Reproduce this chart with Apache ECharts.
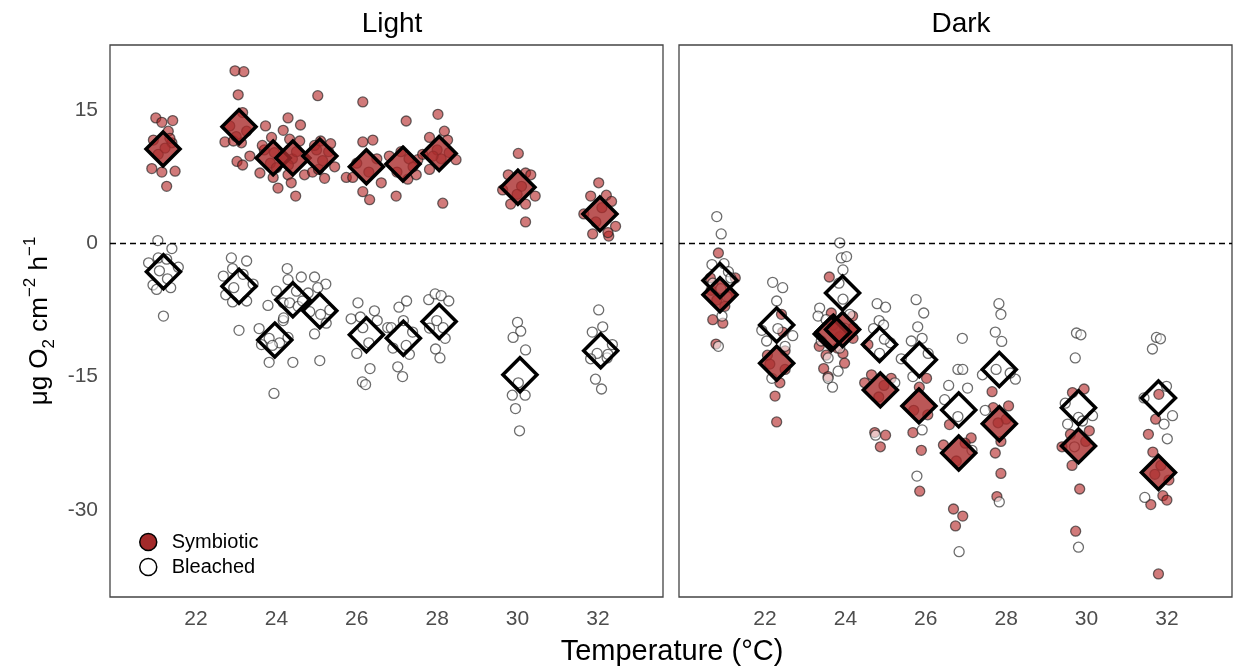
<!DOCTYPE html>
<html>
<head>
<meta charset="UTF-8"/>
<title>Light / Dark respiration</title>
<script src="https://cdn.jsdelivr.net/npm/echarts@6/dist/echarts.min.js"></script>
<style>
html,body{margin:0;padding:0;background:#fff;}
#main{width:1233px;height:668px;}
</style>
</head>
<body>
<div id="main"></div>
<script>
// temperature ticks
var tempTicks = [22, 24, 26, 28, 30, 32];
var rateTicks = [-30, -15, 0, 15];

// Light panel, symbiotic individuals [temperature (jittered), rate]
var lightSymPts = [
  [21.0,14.1],[21.15,13.6],[21.42,13.8],[21.31,12.6],[20.94,11.6],[21.4,11.3],[20.9,8.4],[21.15,8.0],[21.48,8.1],[21.27,6.4],[21.06,10.0],[21.23,10.7],[21.35,11.8],
  [22.97,19.4],[23.19,19.3],[23.05,16.7],[23.16,14.7],[22.72,11.4],[22.93,11.5],[23.13,11.3],[23.02,9.2],[23.16,8.8],[23.34,9.8],[22.84,13.2],[23.26,12.6],[23.0,12.0],
  [23.73,13.2],[24.17,12.7],[23.88,11.9],[23.59,7.9],[23.92,7.4],[24.04,6.2],[23.7,10.5],[23.85,9.0],[24.0,8.5],[23.95,10.2],[23.65,11.0],
  [24.29,14.1],[24.6,13.3],[24.33,11.7],[24.58,11.5],[24.29,7.7],[24.37,6.8],[24.48,5.3],[24.7,7.7],[24.4,9.5],[24.5,10.3],[24.3,8.8],
  [25.03,16.6],[25.2,7.3],[25.45,8.6],[24.9,8.0],[25.0,10.5],[25.15,9.3],[25.3,10.3],[24.95,11.0],[25.1,11.5],[25.35,11.2],[25.05,8.3],
  [26.15,15.9],[26.15,11.4],[26.4,11.6],[26.61,6.8],[26.15,5.8],[26.32,4.9],[25.74,7.4],[25.9,7.4],[26.0,9.0],[26.3,8.0],[26.5,9.5],
  [27.23,13.75],[26.81,9.8],[27.48,7.7],[27.27,7.2],[26.98,5.3],[27.52,9.4],[27.64,10.0],[27.0,8.0],[27.3,9.5],[27.1,10.3],[27.4,8.6],
  [28.02,14.5],[27.81,11.9],[28.18,12.6],[28.26,11.6],[27.81,8.3],[28.47,9.4],[28.14,4.5],[28.0,10.5],[28.1,9.5],[28.3,10.2],[27.9,9.8],
  [30.02,10.1],[29.77,7.7],[30.2,7.9],[30.33,7.7],[29.63,6.0],[29.83,4.4],[30.2,4.4],[30.44,5.3],[30.2,2.4],[30.1,6.4],[29.99,5.5],
  [32.02,6.8],[31.82,5.3],[32.21,5.4],[32.34,4.7],[31.65,3.3],[32.44,1.9],[31.87,1.05],[32.27,0.8],[32.25,1.2],[32.1,4.0],[31.95,2.4]
];
// Light panel, bleached individuals
var lightBlePts = [
  [21.05,0.3],[21.4,-0.6],[20.82,-2.2],[21.06,-1.65],[21.27,-1.8],[21.56,-2.7],[21.09,-3.1],[21.29,-4.0],[20.93,-4.7],[21.02,-5.2],[21.37,-5.0],[21.19,-8.2],
  [22.88,-1.65],[23.26,-2.0],[22.91,-2.85],[22.68,-3.7],[23.17,-3.5],[23.42,-4.6],[22.94,-5.0],[22.74,-5.8],[22.91,-6.6],[23.26,-6.5],[23.07,-9.8],
  [23.79,-7.0],[23.57,-9.6],[24.17,-8.7],[23.82,-10.7],[24.08,-11.2],[23.63,-11.4],[23.82,-13.4],[24.41,-13.4],[23.94,-16.9],[24.29,-10.6],[23.9,-11.5],
  [24.27,-2.85],[24.29,-4.1],[24.62,-3.8],[24.0,-5.4],[24.5,-5.4],[24.17,-6.7],[24.33,-6.7],[24.54,-7.1],[24.18,-8.4],[24.65,-6.5],
  [24.95,-3.8],[25.23,-4.6],[24.79,-5.6],[25.03,-5.0],[24.83,-7.7],[25.33,-7.5],[25.24,-9.0],[24.95,-10.2],[25.08,-13.2],[25.1,-8.0],
  [26.03,-6.7],[25.86,-8.5],[26.09,-8.3],[26.44,-7.6],[26.51,-8.7],[26.15,-9.5],[26.3,-11.2],[26.0,-12.4],[26.33,-14.1],[26.14,-15.6],[26.22,-15.9],[26.77,-9.5],
  [26.86,-9.5],[27.05,-7.2],[27.24,-6.5],[27.16,-8.7],[27.39,-10.0],[26.9,-11.8],[27.23,-11.5],[27.31,-12.5],[27.02,-13.9],[27.14,-15.0],
  [27.79,-6.35],[27.95,-5.7],[28.1,-5.9],[28.29,-6.5],[27.81,-9.55],[27.99,-8.7],[28.15,-9.5],[28.2,-10.7],[27.96,-11.9],[28.07,-12.9],
  [30.0,-8.9],[30.08,-9.9],[29.89,-10.6],[30.2,-12.0],[30.02,-15.7],[29.87,-17.1],[30.19,-17.1],[29.95,-18.6],[30.05,-21.1],
  [32.02,-7.5],[32.12,-9.4],[31.86,-10.0],[32.36,-11.4],[31.98,-12.4],[32.23,-12.9],[31.82,-13.0],[31.94,-15.3],[32.09,-16.4],[32.25,-12.5]
];
// Dark panel, symbiotic individuals
var darkSymPts = [
  [20.84,-1.1],[21.26,-3.9],[20.64,-3.9],[20.7,-8.6],[20.95,-9.0],[20.78,-11.35],[21.0,-7.1],[20.8,-6.4],[21.1,-6.0],[20.66,-5.3],
  [22.41,-8.0],[22.44,-10.0],[22.06,-12.6],[22.5,-12.1],[22.12,-13.6],[22.37,-15.7],[22.25,-17.2],[22.29,-20.1],[22.5,-14.2],
  [23.6,-3.8],[24.18,-8.2],[23.65,-7.85],[23.35,-11.6],[23.52,-12.6],[23.8,-11.8],[24.19,-9.55],[23.94,-12.4],[23.98,-13.5],[23.46,-14.1],[24.19,-10.7],[23.86,-10.5],[23.7,-9.2],[23.57,-15.0],
  [24.56,-11.4],[24.48,-15.7],[24.65,-14.8],[25.14,-15.2],[24.96,-16.0],[24.73,-21.3],[25.0,-21.6],[24.87,-22.9],[24.83,-17.3],
  [26.02,-15.2],[25.84,-16.2],[25.68,-21.3],[25.89,-23.3],[25.85,-27.9],[26.05,-19.3],[25.7,-18.8],
  [26.59,-20.4],[27.13,-21.9],[26.44,-22.7],[26.76,-24.5],[26.69,-29.9],[26.92,-30.7],[26.74,-31.8],[26.98,-22.5],
  [27.65,-16.7],[27.68,-18.5],[28.06,-18.3],[28.0,-19.8],[27.8,-20.2],[27.87,-22.3],[27.73,-23.6],[27.87,-25.9],[27.77,-28.5],
  [29.65,-16.8],[29.94,-16.4],[30.07,-21.1],[29.39,-22.9],[29.64,-25.0],[29.83,-27.65],[29.73,-32.4],[29.98,-22.3],[29.6,-21.5],
  [31.8,-17.0],[31.72,-19.8],[31.54,-21.5],[31.65,-23.5],[32.05,-26.65],[31.9,-28.4],[31.6,-29.4],[32.0,-28.9],[31.79,-37.2],[31.85,-25.0],[31.7,-26.0]
];
// Dark panel, bleached individuals
var darkBlePts = [
  [20.8,3.0],[20.91,1.05],[20.68,-2.4],[20.98,-2.3],[21.09,-3.2],[20.93,-8.2],[20.84,-11.6],[21.15,-3.9],[20.9,-5.1],[20.7,-4.5],[21.05,-6.0],
  [22.19,-4.4],[22.44,-5.0],[22.29,-6.5],[21.92,-9.8],[22.32,-9.6],[22.69,-10.4],[22.04,-11.0],[22.17,-15.2],[22.5,-11.6],
  [23.86,0.05],[23.9,-1.65],[24.03,-1.5],[23.94,-3.0],[23.84,-4.5],[23.94,-6.3],[23.36,-7.3],[23.32,-8.2],[23.52,-8.6],[24.11,-8.0],[23.98,-9.55],[23.86,-11.8],[23.57,-12.9],[23.82,-14.4],[23.57,-15.2],[23.68,-16.2],[23.4,-11.0],
  [24.79,-6.8],[25.0,-7.2],[24.84,-8.7],[24.95,-9.2],[24.7,-9.6],[25.12,-11.2],[24.85,-12.4],[24.97,-10.8],[25.23,-15.7],[24.75,-21.6],
  [25.76,-6.35],[25.95,-7.85],[25.8,-9.4],[25.91,-10.7],[25.64,-11.0],[26.06,-12.4],[25.39,-13.0],[25.68,-15.0],[25.91,-21.0],[25.78,-26.2],
  [26.91,-10.7],[26.8,-14.2],[26.92,-14.2],[26.57,-16.0],[27.04,-16.3],[26.47,-17.6],[26.8,-19.5],[27.15,-23.3],[26.83,-34.7],
  [27.82,-6.8],[27.87,-8.0],[27.73,-10.0],[27.89,-11.05],[27.41,-14.8],[28.23,-15.3],[27.75,-14.2],[28.1,-14.6],[27.48,-18.8],[27.83,-29.1],
  [29.75,-10.1],[29.86,-10.3],[29.72,-12.9],[29.47,-18.0],[30.15,-19.4],[29.53,-20.35],[29.8,-19.6],[29.7,-22.9],[29.8,-34.2],[29.9,-20.0],
  [31.74,-10.6],[31.84,-10.75],[31.64,-11.9],[31.99,-16.1],[31.43,-17.4],[32.14,-19.4],[31.93,-20.35],[32.01,-22.0],[31.45,-28.6]
];
// group means (diamonds)
var lightSymMean = [[21.18,10.6],[23.07,13.1],[23.92,9.6],[24.41,9.6],[25.08,9.8],[26.24,8.6],[27.15,8.9],[28.05,10.1],[30.01,6.3],[32.05,3.3]];
var lightBleMean = [[21.19,-3.2],[23.07,-4.85],[23.96,-10.9],[24.41,-6.35],[25.08,-7.6],[26.24,-10.3],[27.16,-10.7],[28.05,-8.8],[30.06,-14.8],[32.07,-12.1]];
var darkSymMean = [[20.88,-5.8],[22.29,-13.5],[23.65,-10.2],[23.93,-9.7],[24.87,-16.5],[25.83,-18.3],[26.82,-23.6],[27.83,-20.3],[29.8,-22.8],[31.79,-25.8]];
var darkBleMean = [[20.88,-4.2],[22.29,-9.2],[23.7,-10.0],[23.93,-5.6],[24.85,-11.4],[25.84,-13.1],[26.82,-18.75],[27.83,-14.2],[29.8,-18.5],[31.79,-17.4]];

var FONT = 'Liberation Sans, Arial, sans-serif';
var chart = echarts.init(document.getElementById('main'));

function xAx(idx) {
  return {
    type: 'value', gridIndex: idx, min: 19.86, max: 33.62,
    axisLine: {show: false}, axisTick: {show: false}, splitLine: {show: false},
    axisLabel: {customValues: tempTicks, color: '#4d4d4d', fontSize: 21, fontFamily: FONT, margin: 12}
  };
}
function yAx(idx) {
  return {
    type: 'value', gridIndex: idx, min: -39.8, max: 22.3,
    axisLine: {show: false}, axisTick: {show: false}, splitLine: {show: false},
    axisLabel: {show: idx === 0, customValues: rateTicks, color: '#4d4d4d', fontSize: 21, fontFamily: FONT, margin: 12}
  };
}
function pts(name, data, idx, filled) {
  return {
    name: name, type: 'scatter', xAxisIndex: idx, yAxisIndex: idx, data: data,
    symbol: 'circle', symbolSize: 10, z: 2,
    itemStyle: {
      opacity: 1,
      color: filled ? 'rgba(178,34,34,0.6)' : 'rgba(255,255,255,0.55)',
      borderColor: 'rgba(30,30,30,0.65)', borderWidth: 1.3
    }
  };
}
function means(name, data, idx, filled) {
  return {
    name: name, type: 'scatter', xAxisIndex: idx, yAxisIndex: idx, data: data,
    symbol: 'diamond', symbolSize: 34, z: 4,
    itemStyle: {
      opacity: 1,
      color: filled ? 'rgba(170,45,45,0.8)' : 'rgba(255,255,255,0)',
      borderColor: '#000', borderWidth: 3.5
    }
  };
}
function zeroLine(idx) {
  return {
    type: 'scatter', xAxisIndex: idx, yAxisIndex: idx, data: [], silent: true, z: 1,
    markLine: {
      silent: true, symbol: 'none', label: {show: false},
      lineStyle: {type: [6, 4], color: '#000', width: 1.4},
      data: [{yAxis: 0}]
    }
  };
}

var option = {
  backgroundColor: '#fff',
  animation: false,
  textStyle: {fontFamily: FONT},
  title: [
    {text: 'Light', left: 387, top: 5, textAlign: 'center', textStyle: {fontSize: 28, fontWeight: 'normal', color: '#000', fontFamily: FONT}},
    {text: 'Dark', left: 956, top: 5, textAlign: 'center', textStyle: {fontSize: 28, fontWeight: 'normal', color: '#000', fontFamily: FONT}}
  ],
  grid: [
    {left: 110, top: 45, width: 553, height: 552, show: true, borderColor: '#444', borderWidth: 1.3, backgroundColor: 'transparent'},
    {left: 679, top: 45, width: 553, height: 552, show: true, borderColor: '#444', borderWidth: 1.3, backgroundColor: 'transparent'}
  ],
  xAxis: [xAx(0), xAx(1)],
  yAxis: [yAx(0), yAx(1)],
  legend: {
    orient: 'vertical', left: 134, top: 527, itemGap: 5, itemWidth: 17, itemHeight: 17,
    selectedMode: false,
    textStyle: {fontSize: 20, color: '#000', fontFamily: FONT, padding: [0, 0, 0, 10]},
    data: [
      {name: 'Symbiotic', icon: 'circle', itemStyle: {color: '#a32a2a', borderColor: '#000', borderWidth: 1.5, opacity: 1}},
      {name: 'Bleached', icon: 'circle', itemStyle: {color: '#fff', borderColor: '#000', borderWidth: 1.5, opacity: 1}}
    ]
  },
  graphic: [
    {
      type: 'text', x: 40, y: 321, rotation: Math.PI / 2,
      style: {
        text: '{a|μg O}{sub|2}{a| cm}{sup|−2}{a| h}{sup|−1}',
        align: 'center', verticalAlign: 'middle', fill: '#000',
        rich: {
          a: {fontSize: 26, fontFamily: FONT, lineHeight: 36, verticalAlign: 'middle'},
          sub: {fontSize: 17, fontFamily: FONT, lineHeight: 17, verticalAlign: 'bottom'},
          sup: {fontSize: 17, fontFamily: FONT, lineHeight: 17, verticalAlign: 'top'}
        }
      }
    },
    {
      type: 'text', x: 672, y: 652,
      style: {text: 'Temperature (°C)', align: 'center', verticalAlign: 'middle', fill: '#000', fontSize: 29, fontFamily: FONT}
    }
  ],
  series: [
    zeroLine(0), zeroLine(1),
    pts('Symbiotic', lightSymPts, 0, true),
    pts('Bleached', lightBlePts, 0, false),
    pts('Symbiotic', darkSymPts, 1, true),
    pts('Bleached', darkBlePts, 1, false),
    means('Symbiotic', lightSymMean, 0, true),
    means('Bleached', lightBleMean, 0, false),
    means('Symbiotic', darkSymMean, 1, true),
    means('Bleached', darkBleMean, 1, false)
  ]
};
chart.setOption(option);
</script>
</body>
</html>
